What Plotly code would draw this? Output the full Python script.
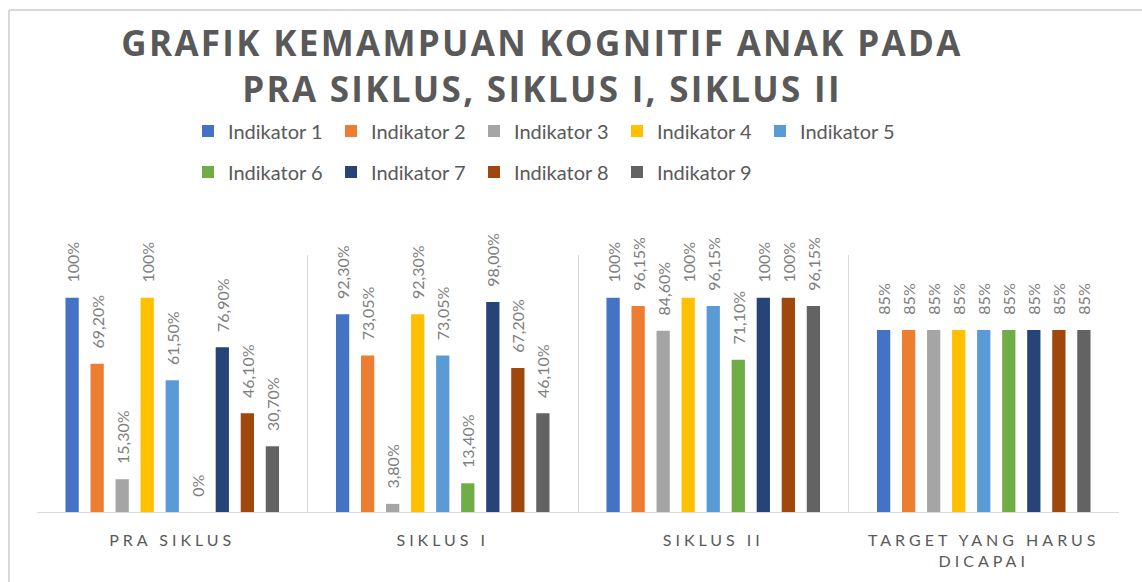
import plotly.graph_objects as go

categories = ["PRA SIKLUS", "SIKLUS I", "SIKLUS II", "TARGET YANG HARUS<br>DICAPAI"]
series_names = ["Indikator 1", "Indikator 2", "Indikator 3", "Indikator 4", "Indikator 5",
                "Indikator 6", "Indikator 7", "Indikator 8", "Indikator 9"]

ind1 = [1.00, 0.923, 1.00, 0.85]
ind2 = [0.692, 0.7305, 0.9615, 0.85]
ind3 = [0.153, 0.038, 0.846, 0.85]
ind4 = [1.00, 0.923, 1.00, 0.85]
ind5 = [0.615, 0.7305, 0.9615, 0.85]
ind6 = [0.00, 0.134, 0.711, 0.85]
ind7 = [0.769, 0.98, 1.00, 0.85]
ind8 = [0.461, 0.672, 1.00, 0.85]
ind9 = [0.307, 0.461, 0.9615, 0.85]

lbl1 = ["100%", "92,30%", "100%", "85%"]
lbl2 = ["69,20%", "73,05%", "96,15%", "85%"]
lbl3 = ["15,30%", "3,80%", "84,60%", "85%"]
lbl4 = ["100%", "92,30%", "100%", "85%"]
lbl5 = ["61,50%", "73,05%", "96,15%", "85%"]
lbl6 = ["0%", "13,40%", "71,10%", "85%"]
lbl7 = ["76,90%", "98,00%", "100%", "85%"]
lbl8 = ["46,10%", "67,20%", "100%", "85%"]
lbl9 = ["30,70%", "46,10%", "96,15%", "85%"]

values = [ind1, ind2, ind3, ind4, ind5, ind6, ind7, ind8, ind9]
labels = [lbl1, lbl2, lbl3, lbl4, lbl5, lbl6, lbl7, lbl8, lbl9]
colors = ["#4472C4", "#ED7D31", "#A5A5A5", "#FFC000", "#5B9BD5",
          "#70AD47", "#264478", "#9E480E", "#636363"]

GRID = "#d9d9d9"
TXT = "#595959"
LBL = "#7f7f7f"
PAD = "\u00a0\u00a0\u00a0"

fig = go.Figure()
for i, (name, v, t, c) in enumerate(zip(series_names, values, labels, colors)):
    fig.add_trace(go.Bar(
        x=categories, y=v, name=name,
        marker=dict(color=c, line=dict(width=0)),
        text=[PAD + s for s in t],
        textposition="outside", textangle=-90,
        textfont=dict(family="Lato", size=16, color=LBL),
        constraintext="none", cliponaxis=False,
        legend="legend" if i < 5 else "legend2",
    ))

legend_common = dict(
    orientation="h", xref="container", yref="container",
    x=188 / 1142, xanchor="left", yanchor="middle",
    font=dict(family="Lato", size=20, color=TXT),
    entrywidth=98, entrywidthmode="pixels", itemwidth=30,
    bgcolor="rgba(0,0,0,0)", traceorder="normal",
)

fig.update_layout(
    width=1142, height=582,
    margin=dict(l=37, r=23, t=255, b=70),
    paper_bgcolor="white", plot_bgcolor="white",
    barmode="group", bargap=0.167, bargroupgap=0.47,
    title=dict(
        text="GRAFIK KEMAMPUAN KOGNITIF ANAK PADA<br>PRA SIKLUS, SIKLUS I, SIKLUS II",
        font=dict(family="Open Sans", size=35, color=TXT, weight=700),
        x=0.4746, xanchor="center", xref="container",
        y=1 - 56 / 582, yanchor="top", yref="container",
    ),
    legend=dict(legend_common, y=1 - 131 / 582),
    legend2=dict(legend_common, y=1 - 172 / 582),
    xaxis=dict(
        type="category", tickson="boundaries", ticks="",
        showgrid=True, gridcolor=GRID, gridwidth=1,
        showline=True, linecolor=GRID, linewidth=1,
        tickfont=dict(family="Lato", size=16, color=TXT),
        ticklabelstandoff=14,
    ),
    yaxis=dict(visible=False, range=[0, 1.2], showgrid=False, zeroline=False),
    shapes=[
        dict(type="line", xref="paper", yref="paper",
             x0=(9 - 37) / 1082, x1=(1142 - 37) / 1082,
             y0=(512 - 10) / 257, y1=(512 - 10) / 257,
             line=dict(color=GRID, width=2)),
        dict(type="line", xref="paper", yref="paper",
             x0=(9 - 37) / 1082, x1=(9 - 37) / 1082,
             y0=(512 - 10) / 257, y1=(512 - 600) / 257,
             line=dict(color=GRID, width=2)),
    ],
)

post = """
var gd = document.getElementById('{plot_id}');
function sp(){
  gd.querySelectorAll('.xtick text').forEach(function(t){ t.style.letterSpacing = '4px'; });
  var tt = gd.querySelector('.gtitle'); if (tt) { tt.style.letterSpacing = '2.3px'; }
}
sp();
gd.on('plotly_afterplot', sp);
"""

fig.write_html("out.html", post_script=post)
